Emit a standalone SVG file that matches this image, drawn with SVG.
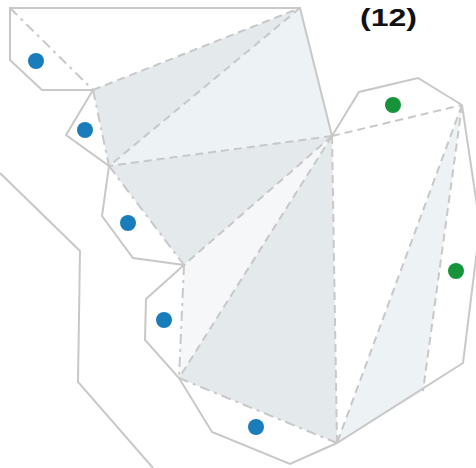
<svg xmlns="http://www.w3.org/2000/svg" width="476" height="468" viewBox="0 0 476 468">
<style>
.fd{fill:#e4e9ec}
.fl{fill:#edf2f4}
.fx{fill:#f5f7f9}
.sol{fill:none;stroke:#c8c8c8;stroke-width:2;stroke-linejoin:miter}
.dsh{fill:none;stroke:#c8c8c8;stroke-width:2;stroke-dasharray:8 5}
.dd{fill:none;stroke:#c8c8c8;stroke-width:2;stroke-dasharray:10 5 3 5}
.b{fill:#1a7dbb}
.g{fill:#17943a}
.lbl{font-family:"Liberation Sans",Arial,sans-serif;font-weight:bold;font-size:24px;fill:#111}
</style>
<g id="faces">
<polygon class="fd" points="93,90 300,8 109,166"/>
<polygon class="fl" points="300,8 332,136 109,166"/>
<polygon class="fd" points="109,166 332,136 184,265"/>
<polygon class="fx" points="184,265 332,136 179,378"/>
<polygon class="fd" points="179,378 332,136 337,443"/>
<polygon class="fl" points="462,105 337,443 423,391"/>
</g>
<g id="connectors">
<polygon class="sol" points="10,8 300,8 332,136 359,92 418,78 462,105 480,226 463,363 337,443 290,464 212,432 179,378 145,340 146,299 184,265 133,258 102,216 109,166 66,135 93,90 42,90 10,60"/>
<polyline class="sol" points="0,173 80,251 78,382 153,468"/>
<line class="dd" x1="10" y1="8" x2="93" y2="90"/>
<line class="dd" x1="93" y1="90" x2="109" y2="166"/>
<line class="dd" x1="109" y1="166" x2="184" y2="265"/>
<line class="dd" x1="184" y1="265" x2="179" y2="378"/>
<line class="dd" x1="179" y1="378" x2="337" y2="443"/>
<line class="dsh" x1="93" y1="90" x2="300" y2="8"/>
<line class="dsh" x1="300" y1="8" x2="109" y2="166"/>
<line class="dsh" x1="332" y1="136" x2="109" y2="166"/>
<line class="dsh" x1="332" y1="136" x2="184" y2="265"/>
<line class="dsh" x1="332" y1="136" x2="179" y2="378"/>
<line class="dsh" x1="332" y1="136" x2="337" y2="443"/>
<line class="dsh" x1="332" y1="136" x2="462" y2="105"/>
<line class="dsh" x1="462" y1="105" x2="337" y2="443"/>
<line class="dsh" x1="462" y1="105" x2="423" y2="391"/>
</g>
<g id="n1"><circle class="b" cx="36" cy="61" r="8"/></g>
<g id="n2"><circle class="b" cx="85" cy="130" r="8"/></g>
<g id="n3"><circle class="b" cx="128" cy="223" r="8"/></g>
<g id="n4"><circle class="b" cx="164" cy="320" r="8"/></g>
<g id="n5"><circle class="b" cx="256" cy="427" r="8"/></g>
<g id="n6"><circle class="g" cx="393" cy="105" r="8"/></g>
<g id="n7"><circle class="g" cx="456" cy="271" r="8"/></g>
<g id="label"><text class="lbl" x="360" y="26" textLength="57" lengthAdjust="spacingAndGlyphs">(12)</text></g>
</svg>
